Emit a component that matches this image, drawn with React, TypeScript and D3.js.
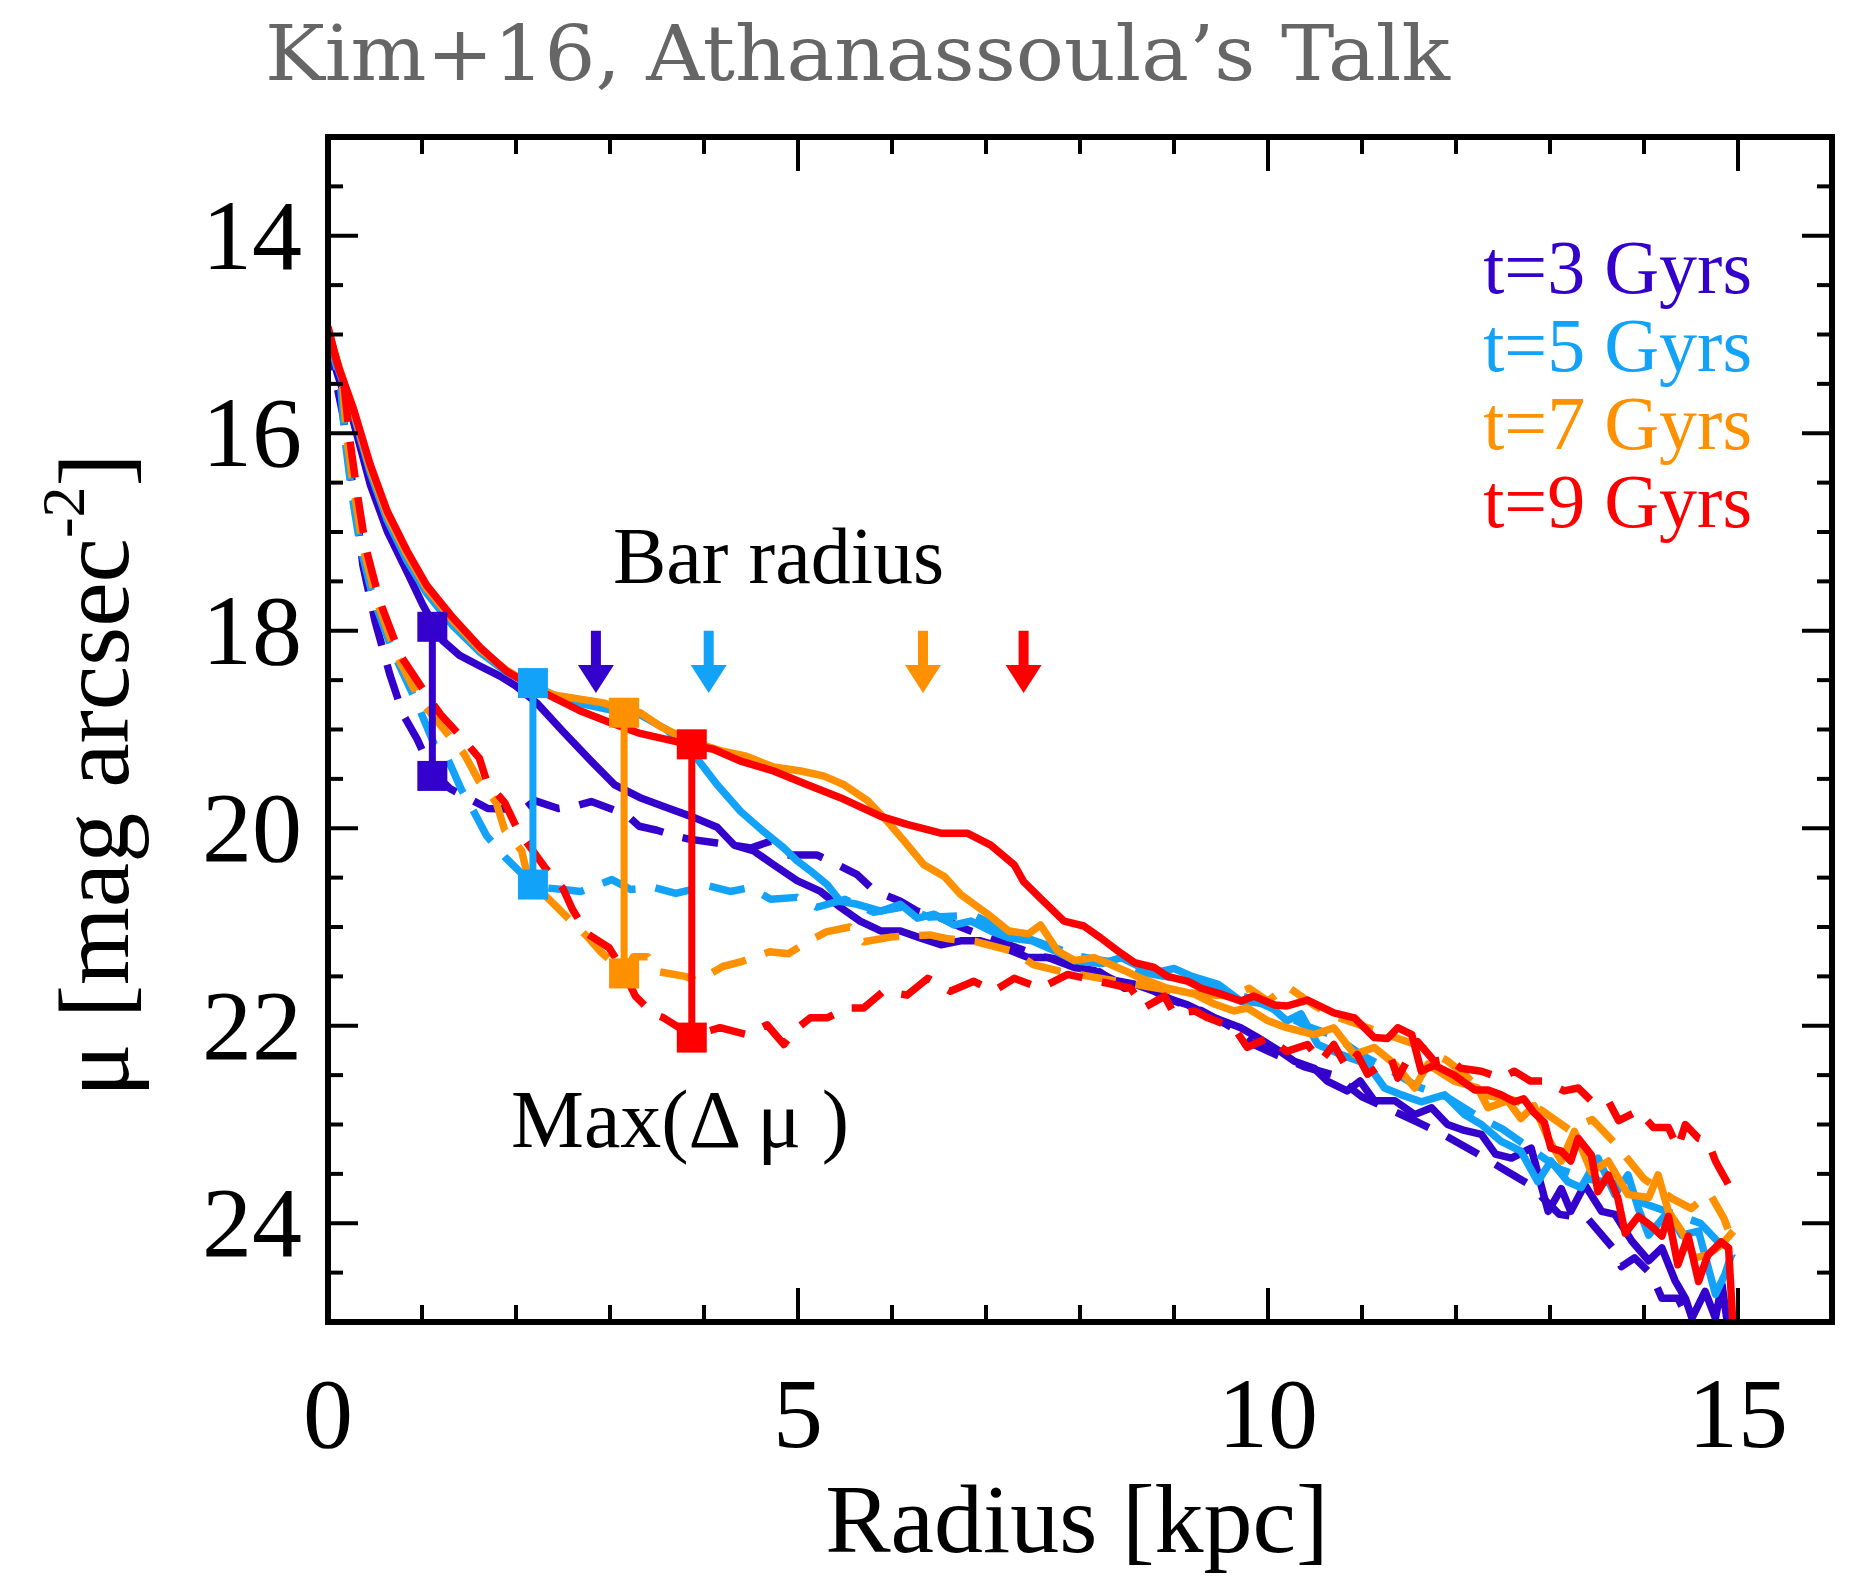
import React from 'react';
import * as d3 from 'd3';

const titleText = 'Kim+16, Athanassoula\u2019s Talk';
const radiusTicks = [0, 5, 10, 15];
const muTicks = [14, 16, 18, 20, 22, 24];
const timeLabels = ['t=3 Gyrs', 't=5 Gyrs', 't=7 Gyrs', 't=9 Gyrs'];
const timeColors = ['#3300cc', '#12a2f8', '#ff9000', '#ff0000'];
const barRadius = [2.85, 4.05, 6.33, 7.4];
const arrowTopMu = 18.0;
const arrowTipMu = 18.63;
const maxDmuRadius = [1.11, 2.18, 3.15, 3.87];
const maxDmuTop = [17.96, 18.53, 18.83, 19.15];
const maxDmuBottom = [19.47, 20.57, 21.47, 22.12];

const solid3: [number, number][] = [[0.0,15.05],[0.1,15.4],[0.27,15.88],[0.45,16.52],[0.63,16.99],[0.84,17.4],[1.01,17.74],[1.22,18.1],[1.4,18.25],[1.62,18.36],[1.83,18.46],[2.0,18.56],[2.22,18.73],[2.5,19.02],[2.8,19.32],[3.05,19.56],[3.32,19.69],[3.6,19.79],[3.89,19.89],[4.14,19.99],[4.32,20.17],[4.53,20.23],[4.74,20.37],[4.99,20.53],[5.24,20.64],[5.45,20.8],[5.66,20.94],[5.88,21.04],[6.09,21.04],[6.3,21.11],[6.52,21.18],[6.73,21.14],[6.94,21.14],[7.19,21.21],[7.45,21.31],[7.66,21.31],[7.94,21.41],[8.15,21.44],[8.37,21.54],[8.58,21.58],[8.79,21.65],[8.93,21.72],[9.15,21.79],[9.43,21.92],[9.71,22.02],[9.89,22.12],[10.13,22.26],[10.28,22.36],[10.49,22.43],[10.63,22.56],[10.84,22.66],[10.98,22.56],[11.13,22.76],[11.35,22.76],[11.56,22.9],[11.74,22.83],[11.91,23.0],[12.09,23.06],[12.27,23.1],[12.42,23.3],[12.59,23.34],[12.8,23.24],[12.98,23.88],[13.12,23.65],[13.22,23.88],[13.37,23.61],[13.55,23.88],[13.69,23.91],[13.87,24.18],[14.05,24.38],[14.19,24.25],[14.33,24.58],[14.44,24.76],[14.51,24.96],[14.65,24.69],[14.76,24.96],[14.83,24.62],[14.9,25.1]];

const solid5: [number, number][] = [[0.0,14.95],[0.1,15.32],[0.27,15.8],[0.45,16.4],[0.63,16.88],[0.84,17.29],[1.05,17.62],[1.33,17.95],[1.62,18.22],[1.9,18.42],[2.18,18.55],[2.4,18.65],[2.7,18.74],[3.0,18.8],[3.32,18.85],[3.6,19.0],[3.89,19.25],[4.14,19.56],[4.39,19.83],[4.63,20.03],[4.85,20.2],[4.99,20.33],[5.13,20.43],[5.31,20.57],[5.45,20.74],[5.63,20.77],[5.88,20.84],[6.09,20.77],[6.27,20.91],[6.45,20.87],[6.66,20.98],[6.84,20.94],[7.05,21.04],[7.24,21.11],[7.49,21.14],[7.73,21.24],[7.94,21.34],[8.23,21.37],[8.44,21.31],[8.65,21.41],[8.86,21.45],[9.0,21.42],[9.19,21.5],[9.47,21.58],[9.71,21.75],[10.0,21.78],[10.2,21.95],[10.35,21.88],[10.53,22.19],[10.77,22.29],[11.06,22.39],[11.24,22.63],[11.42,22.7],[11.63,22.77],[11.88,22.7],[12.09,22.9],[12.27,23.0],[12.48,23.17],[12.69,23.27],[12.87,23.58],[13.01,23.37],[13.19,23.58],[13.33,23.64],[13.51,23.34],[13.69,23.71],[13.83,23.51],[13.94,23.85],[14.05,24.12],[14.26,23.88],[14.4,24.12],[14.58,24.08],[14.76,24.72],[14.86,24.52],[14.93,24.32]];

const solid7: [number, number][] = [[0.0,14.95],[0.1,15.28],[0.27,15.77],[0.45,16.36],[0.63,16.83],[0.84,17.23],[1.05,17.57],[1.33,17.9],[1.62,18.19],[1.9,18.4],[2.2,18.57],[2.4,18.65],[2.6,18.68],[2.93,18.73],[3.15,18.8],[3.32,18.83],[3.54,18.97],[3.86,19.12],[4.2,19.22],[4.45,19.27],[4.74,19.38],[5.03,19.42],[5.27,19.47],[5.49,19.56],[5.74,19.72],[5.95,19.93],[6.13,20.13],[6.34,20.37],[6.56,20.49],[6.73,20.67],[7.02,20.87],[7.24,21.04],[7.45,21.07],[7.58,20.98],[7.76,21.24],[7.94,21.34],[8.15,21.31],[8.3,21.37],[8.47,21.44],[8.65,21.52],[8.93,21.62],[9.22,21.68],[9.43,21.78],[9.64,21.85],[9.78,21.82],[10.0,21.95],[10.2,22.02],[10.49,22.09],[10.7,22.02],[10.92,22.29],[11.13,22.22],[11.35,22.39],[11.56,22.63],[11.7,22.39],[11.98,22.56],[12.23,22.63],[12.34,22.83],[12.55,22.76],[12.69,22.94],[12.83,22.81],[12.98,23.14],[13.12,23.37],[13.26,23.07],[13.44,23.48],[13.62,23.37],[13.83,23.71],[14.05,23.74],[14.15,23.51],[14.26,23.88],[14.4,24.08],[14.54,24.35],[14.68,24.32],[14.82,24.22],[14.95,24.08]];

const solid9: [number, number][] = [[0.0,14.92],[0.1,15.3],[0.27,15.75],[0.45,16.32],[0.63,16.79],[0.84,17.19],[1.05,17.54],[1.33,17.87],[1.62,18.17],[1.9,18.41],[2.26,18.61],[2.68,18.81],[3.0,18.93],[3.32,19.04],[3.6,19.1],[3.88,19.16],[4.1,19.2],[4.39,19.32],[4.74,19.42],[5.1,19.56],[5.45,19.69],[5.88,19.88],[6.16,19.96],[6.52,20.05],[6.8,20.05],[7.05,20.17],[7.3,20.37],[7.4,20.54],[7.58,20.71],[7.83,20.94],[8.04,20.99],[8.22,21.11],[8.4,21.24],[8.58,21.36],[8.79,21.41],[8.93,21.5],[9.15,21.55],[9.29,21.62],[9.5,21.68],[9.71,21.75],[9.85,21.7],[10.07,21.79],[10.2,21.8],[10.42,21.74],[10.7,21.87],[10.92,21.92],[11.13,22.12],[11.27,22.13],[11.38,22.02],[11.53,22.09],[11.63,22.46],[11.77,22.4],[11.98,22.5],[12.2,22.65],[12.34,22.65],[12.48,22.7],[12.62,22.77],[12.72,22.74],[12.83,22.88],[12.94,22.98],[13.01,23.24],[13.12,23.27],[13.22,23.37],[13.3,23.14],[13.44,23.31],[13.51,23.68],[13.62,23.51],[13.72,23.74],[13.8,24.1],[13.94,23.93],[14.08,24.03],[14.19,24.13],[14.26,23.93],[14.36,24.42],[14.47,24.13],[14.58,24.59],[14.68,24.32],[14.82,24.19],[14.9,24.25],[14.95,25.1]];

const dashed3: [number, number][] = [[0.0,15.0],[0.05,15.31],[0.16,15.82],[0.23,16.32],[0.31,16.83],[0.37,17.33],[0.5,17.9],[0.66,18.45],[0.8,18.85],[0.95,19.1],[1.1,19.42],[1.3,19.6],[1.46,19.68],[1.7,19.8],[2.08,19.81],[2.2,19.72],[2.45,19.8],[2.65,19.77],[2.8,19.73],[3.17,19.86],[3.31,19.98],[3.5,20.02],[3.7,20.08],[3.84,20.11],[4.14,20.15],[4.5,20.2],[4.71,20.13],[4.88,20.27],[5.2,20.27],[5.42,20.37],[5.63,20.47],[5.81,20.63],[6.09,20.74],[6.27,20.84],[6.52,20.91],[6.73,21.0],[7.0,21.1],[7.3,21.2],[7.6,21.3],[7.9,21.35],[8.2,21.45],[8.47,21.62],[8.7,21.6],[9.0,21.75],[9.3,21.85],[9.64,22.03],[9.85,22.19],[10.1,22.3],[10.4,22.42],[10.7,22.5],[11.0,22.72],[11.3,22.85],[11.6,22.98],[11.9,23.12],[12.2,23.28],[12.5,23.45],[12.8,23.62],[12.95,23.77],[13.1,23.91],[13.4,23.95],[13.66,24.24],[13.76,24.44],[13.9,24.35],[14.08,24.52],[14.19,24.76],[14.36,24.76],[14.47,24.96],[14.55,25.1]];

const dashed5: [number, number][] = [[0.0,15.0],[0.13,15.47],[0.18,16.05],[0.25,16.59],[0.34,17.13],[0.48,17.67],[0.69,18.21],[0.94,18.72],[1.13,19.15],[1.27,19.29],[1.42,19.61],[1.55,19.83],[1.69,20.08],[1.88,20.29],[2.05,20.45],[2.18,20.57],[2.27,20.6],[2.5,20.62],[2.69,20.64],[3.02,20.52],[3.22,20.62],[3.47,20.6],[3.7,20.66],[4.03,20.58],[4.28,20.64],[4.49,20.6],[4.71,20.72],[4.99,20.7],[5.2,20.8],[5.5,20.72],[5.8,20.85],[6.1,20.8],[6.4,20.9],[6.87,20.88],[7.08,20.98],[7.4,21.1],[7.7,21.2],[8.0,21.3],[8.3,21.35],[8.6,21.45],[8.9,21.5],[9.2,21.55],[9.5,21.65],[9.8,21.72],[10.1,21.85],[10.4,22.0],[10.7,22.1],[11.0,22.3],[11.3,22.45],[11.6,22.62],[11.9,22.72],[12.2,22.9],[12.5,23.05],[12.8,23.25],[13.1,23.45],[13.4,23.55],[13.7,23.6],[14.0,23.8],[14.3,23.9],[14.6,24.0],[14.8,24.2],[14.95,24.35]];

const dashed7: [number, number][] = [[0.0,14.98],[0.15,15.45],[0.2,16.05],[0.28,16.6],[0.37,17.15],[0.52,17.7],[0.73,18.25],[0.99,18.72],[1.15,18.9],[1.3,19.08],[1.45,19.25],[1.61,19.53],[1.79,19.74],[1.88,20.02],[2.06,20.23],[2.14,20.55],[2.32,20.69],[2.5,20.86],[2.76,21.1],[2.9,21.25],[3.15,21.47],[3.25,21.3],[3.4,21.3],[3.5,21.45],[3.8,21.5],[3.93,21.55],[4.2,21.4],[4.4,21.35],[4.7,21.25],[4.9,21.27],[5.1,21.15],[5.3,21.05],[5.55,21.0],[5.7,21.15],[6.0,21.1],[6.4,21.08],[6.6,21.12],[6.9,21.15],[7.3,21.25],[7.5,21.38],[7.8,21.45],[8.1,21.5],[8.4,21.55],[8.7,21.6],[9.0,21.65],[9.3,21.68],[9.6,21.7],[9.8,21.62],[10.0,21.75],[10.2,21.6],[10.5,21.8],[10.7,21.9],[11.0,22.0],[11.3,22.1],[11.6,22.2],[11.9,22.35],[12.1,22.5],[12.3,22.7],[12.6,22.75],[12.9,22.85],[13.2,23.05],[13.45,22.95],[13.7,23.2],[14.0,23.55],[14.3,23.75],[14.5,23.85],[14.7,23.7],[14.85,23.95],[14.95,24.2]];

const dashed9: [number, number][] = [[0.0,14.98],[0.17,15.5],[0.23,16.05],[0.31,16.6],[0.4,17.15],[0.55,17.7],[0.77,18.25],[1.05,18.65],[1.2,18.85],[1.42,19.08],[1.61,19.29],[1.69,19.53],[1.88,19.74],[2.02,20.02],[2.15,20.19],[2.31,20.4],[2.5,20.61],[2.6,20.82],[2.76,21.07],[2.99,21.21],[3.13,21.42],[3.27,21.7],[3.46,21.88],[3.57,21.92],[3.87,22.1],[4.17,22.02],[4.46,22.09],[4.67,21.99],[4.85,22.19],[4.96,22.05],[5.13,21.92],[5.31,21.92],[5.52,21.82],[5.7,21.82],[5.91,21.65],[6.16,21.69],[6.38,21.52],[6.62,21.65],[6.87,21.55],[7.08,21.65],[7.3,21.52],[7.58,21.62],[7.87,21.48],[8.2,21.55],[8.54,21.62],[8.68,21.82],[8.9,21.7],[9.0,21.88],[9.22,21.85],[9.36,21.92],[9.64,22.02],[9.78,22.22],[10.0,22.12],[10.2,22.26],[10.42,22.19],[10.56,22.36],[10.7,22.19],[10.84,22.43],[10.95,22.29],[11.06,22.49],[11.31,22.33],[11.38,22.53],[11.59,22.16],[11.77,22.36],[11.91,22.33],[12.05,22.43],[12.27,22.46],[12.48,22.53],[12.62,22.46],[12.79,22.56],[12.94,22.56],[13.15,22.66],[13.3,22.63],[13.44,22.76],[13.62,22.76],[13.73,22.96],[13.94,22.86],[14.1,23.03],[14.26,23.03],[14.36,23.24],[14.44,23.0],[14.58,23.14],[14.68,23.17],[14.76,23.37],[14.8,23.44],[14.9,23.61]];

const solidSeries = [solid3, solid5, solid7, solid9];
const dashedSeries = [dashed3, dashed5, dashed7, dashed9];

const W = 1871;
const H = 1576;
const PL = 328, PR = 1832, PT = 137, PB = 1322;
const SERIF = "'Liberation Serif', 'Times New Roman', Times, 'Nimbus Roman', serif";

export default function App() {
  const x = d3.scaleLinear().domain([0, 16]).range([PL, PR]);
  const y = d3.scaleLinear().domain([13, 25]).range([PT, PB]);
  const line = d3.line<[number, number]>().x(d => x(d[0])).y(d => y(d[1]));

  const xMinor = d3.range(1, 16, 1).filter(v => v % 5 !== 0);
  const yMinor = d3.range(13.5, 25, 0.5).filter(v => !muTicks.includes(v));
  const lw = 7.5;
  const serifStyle = { fontFamily: SERIF };

  return (
    <svg width={W} height={H} viewBox={`0 0 ${W} ${H}`} style={{ position: 'absolute', left: 0, top: 0, background: '#fff' }}>
      <rect x={0} y={0} width={W} height={H} fill="#fff" />
      <defs>
        <clipPath id="plotClip">
          <rect x={PL} y={PT} width={PR - PL} height={PB - PT} />
        </clipPath>
      </defs>
      <text x={265} y={80} style={{ fontFamily: "'DejaVu Serif', serif" }} fontSize={76} fill="#666666" textLength={1185} lengthAdjust="spacingAndGlyphs">{titleText}</text>

      <g clipPath="url(#plotClip)">
        {timeLabels.map((_, i) => (
          <g key={i}>
            <path d={line(solidSeries[i]) || ''} fill="none" stroke={timeColors[i]} strokeWidth={lw} strokeLinejoin="round" />
            <path d={line(dashedSeries[i]) || ''} fill="none" stroke={timeColors[i]} strokeWidth={lw} strokeDasharray="36 20" strokeLinejoin="round" />
          </g>
        ))}
      </g>

      {maxDmuRadius.map((r, i) => (
        <g key={i}>
          <line x1={x(r)} x2={x(r)} y1={y(maxDmuTop[i])} y2={y(maxDmuBottom[i])} stroke={timeColors[i]} strokeWidth={7} />
          <rect x={x(r) - 15} y={y(maxDmuTop[i]) - 15} width={30} height={30} fill={timeColors[i]} />
          <rect x={x(r) - 15} y={y(maxDmuBottom[i]) - 15} width={30} height={30} fill={timeColors[i]} />
        </g>
      ))}

      {barRadius.map((r, i) => {
        const tip = y(arrowTipMu);
        const cx = x(r);
        return (
          <g key={i}>
            <line x1={cx} x2={cx} y1={y(arrowTopMu)} y2={tip - 20} stroke={timeColors[i]} strokeWidth={10} />
            <path d={`M${cx - 18},${tip - 28} L${cx + 18},${tip - 28} L${cx},${tip} Z`} fill={timeColors[i]} />
          </g>
        );
      })}

      <text x={613} y={583} style={serifStyle} fontSize={80} fill="#000">Bar radius</text>
      <text x={511} y={1147} style={serifStyle} fontSize={82} fill="#000">Max(Δ μ )</text>

      {timeLabels.map((t, i) => (
        <text key={t} x={1752} y={293 + i * 78} textAnchor="end" style={serifStyle} fontSize={76} fill={timeColors[i]}>{t}</text>
      ))}

      <g stroke="#000" strokeWidth={4}>
        {radiusTicks.filter(v => v > 0).map(v => (
          <g key={'xM' + v}>
            <line x1={x(v)} x2={x(v)} y1={PB} y2={PB - 34} />
            <line x1={x(v)} x2={x(v)} y1={PT} y2={PT + 34} />
          </g>
        ))}
        {xMinor.map(v => (
          <g key={'xm' + v}>
            <line x1={x(v)} x2={x(v)} y1={PB} y2={PB - 17} />
            <line x1={x(v)} x2={x(v)} y1={PT} y2={PT + 17} />
          </g>
        ))}
        {muTicks.map(v => (
          <g key={'yM' + v}>
            <line x1={PL} x2={PL + 30} y1={y(v)} y2={y(v)} />
            <line x1={PR} x2={PR - 30} y1={y(v)} y2={y(v)} />
          </g>
        ))}
        {yMinor.map(v => (
          <g key={'ym' + v}>
            <line x1={PL} x2={PL + 15} y1={y(v)} y2={y(v)} />
            <line x1={PR} x2={PR - 15} y1={y(v)} y2={y(v)} />
          </g>
        ))}
      </g>
      <rect x={PL} y={PT} width={PR - PL} height={PB - PT} fill="none" stroke="#000" strokeWidth={6} />

      {radiusTicks.map(v => (
        <text key={'xl' + v} x={x(v)} y={1447} textAnchor="middle" style={serifStyle} fontSize={100} fill="#000">{v}</text>
      ))}
      {muTicks.map(v => (
        <text key={'yl' + v} x={302} y={y(v) + 33} textAnchor="end" style={serifStyle} fontSize={100} fill="#000">{v}</text>
      ))}

      <text x={1077} y={1552} textAnchor="middle" style={serifStyle} fontSize={98} fill="#000">Radius [kpc]</text>
      <text transform={`translate(128, 775) rotate(-90)`} textAnchor="middle" style={serifStyle} fontSize={100} fill="#000">
        μ [mag arcsec<tspan fontSize={62} dy={-44}>-2</tspan><tspan dy={44}>]</tspan>
      </text>
    </svg>
  );
}
